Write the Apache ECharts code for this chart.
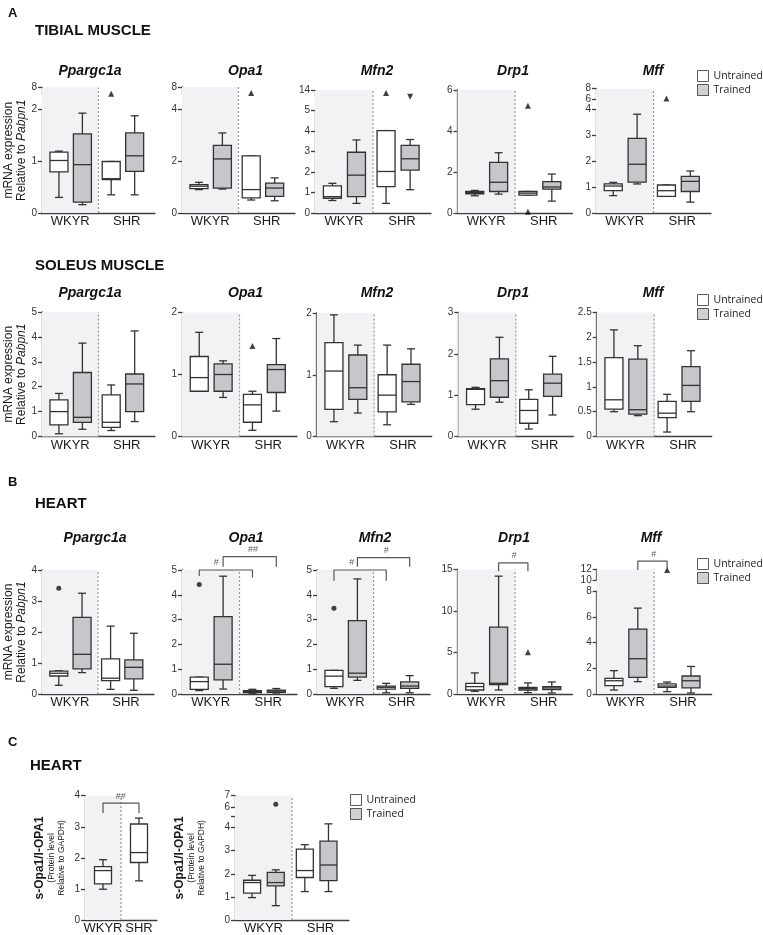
<!DOCTYPE html>
<html><head><meta charset="utf-8">
<script src="https://cdn.jsdelivr.net/npm/echarts@6/dist/echarts.min.js"></script>
<style>html,body{margin:0;padding:0;background:#fff}#c{width:763px;height:935px}</style>
</head><body><div id="c"></div>
<script>
// ================= DATA =================
const groups = ['WKYR', 'SHR'];
const boxNames = ['WKYR Untrained', 'WKYR Trained', 'SHR Untrained', 'SHR Trained'];
const legendNames = ['Untrained', 'Trained'];
// each box: [min, Q1, median, Q3, max]
// --- A: tibial muscle ---
const tibPpargc1a = [[0.30,0.79,1.01,1.17,1.19],[0.16,0.21,0.93,1.52,1.92],[0.35,0.64,0.66,0.99,0.99],[0.35,0.80,1.10,1.54,1.87]];
const tibPpargc1aOut = [[2, 6.2]];
const tibOpa1 = [[0.90,0.94,1.03,1.09,1.18],[0.92,0.96,2.08,2.60,3.08],[0.50,0.58,0.90,2.20,2.20],[0.47,0.64,0.96,1.15,1.35]];
const tibOpa1Out = [[2, 6.3]];
const tibMfn2 = [[0.61,0.72,0.80,1.33,1.45],[0.47,0.80,1.85,2.97,3.57],[0.47,1.29,2.03,4.03,4.03],[1.14,2.10,2.65,3.31,3.59]];
const tibMfn2Out = [[2, 10.5], [3, 6.0]];
const tibDrp1 = [[0.84,0.94,1.00,1.05,1.10],[0.92,1.05,1.50,2.47,2.94],[0.87,0.87,0.97,1.05,1.05],[0.58,1.16,1.27,1.53,1.90]];
const tibDrp1Out = [[2, 5.23], [2, 0.06]];
const tibMff = [[0.67,0.86,1.04,1.12,1.18],[1.12,1.19,1.88,2.88,3.81],[0.64,0.64,0.86,1.08,1.08],[0.42,0.83,1.22,1.41,1.62]];
const tibMffOut = [[2, 6.2]];
// --- A: soleus muscle ---
const solPpargc1a = [[0.11,0.47,1.00,1.47,1.73],[0.29,0.57,0.77,2.57,3.75],[0.24,0.37,0.57,1.67,2.07],[0.60,1.00,2.11,2.51,4.24]];
const solOpa1 = [[0.73,0.73,0.95,1.29,1.68],[0.63,0.73,1.00,1.17,1.22],[0.10,0.23,0.51,0.68,0.73],[0.41,0.71,1.08,1.16,1.58]];
const solOpa1Out = [[2, 1.46]];
const solMfn2 = [[0.24,0.44,1.06,1.52,1.97],[0.38,0.60,0.79,1.32,1.48],[0.19,0.40,0.67,1.00,1.48],[0.52,0.56,0.89,1.17,1.42]];
const solDrp1 = [[0.66,0.77,1.14,1.16,1.19],[0.83,0.95,1.35,1.88,2.40],[0.18,0.32,0.63,0.90,1.13],[0.52,0.97,1.29,1.51,1.94]];
const solMff = [[0.50,0.55,0.74,1.59,2.15],[0.42,0.45,0.54,1.56,1.83],[0.09,0.38,0.47,0.71,0.85],[0.50,0.71,1.03,1.41,1.73]];
// --- B: heart ---
const hrtPpargc1a = [[0.28,0.58,0.67,0.74,0.75],[0.69,0.81,1.28,2.47,3.25],[0.15,0.43,0.51,1.13,2.19],[0.12,0.49,0.86,1.10,1.96]];
const hrtPpargc1aOut = [[0, 3.41]];
const hrtOpa1 = [[0.14,0.19,0.50,0.68,0.68],[0.20,0.57,1.20,3.12,4.75],[0.03,0.06,0.10,0.14,0.19],[0.04,0.07,0.12,0.16,0.22]];
const hrtOpa1Out = [[0, 4.42]];
const hrtMfn2 = [[0.23,0.30,0.72,0.95,0.95],[0.55,0.68,0.84,2.96,4.64],[0.05,0.20,0.27,0.32,0.43],[0.05,0.23,0.32,0.49,0.74]];
const hrtMfn2Out = [[0, 3.46]];
const hrtDrp1 = [[0.32,0.48,0.89,1.29,2.54],[0.48,1.13,1.29,8.06,14.2],[0.16,0.48,0.65,0.81,1.33],[0.12,0.52,0.73,0.89,1.45]];
const hrtDrp1Out = [[2, 5.04]];
const hrtMff = [[0.31,0.65,1.03,1.21,1.81],[0.96,1.29,2.74,5.04,6.67],[0.18,0.52,0.62,0.78,0.93],[0.08,0.47,1.03,1.40,2.14]];
const hrtMffOut = [[2, 11.9]];
// significance brackets: [fromBox, toBox, topValue, leftLegEnd, rightLegEnd, label, labelFraction]
const hrtOpa1Sig = [[0, 2, 5.0, 4.76, 4.7, '#', 0.32], [1, 3, 5.54, 5.13, 5.13, '##', 0.56]];
const hrtMfn2Sig = [[0, 2, 5.0, 4.57, 4.57, '#', 0.34], [1, 3, 5.5, 5.13, 5.13, '#', 0.55]];
const hrtDrp1Sig = [[1, 2, 15.8, 14.8, 14.8, '#', 0.53]];
const hrtMffSig = [[1, 2, 13.6, 11.9, 12.3, '#', 0.54]];
// --- C: heart protein ---
const protGroup = [[0.99,1.16,1.59,1.72,1.94],[1.26,1.85,2.17,3.09,3.28]];
const protGroupSig = [[0, 1, 3.76, 3.44, 3.44, '##', 0.49]];
const protTraining = [[0.97,1.16,1.62,1.72,1.93],[0.62,1.48,1.62,2.06,2.17],[1.23,1.84,2.14,3.07,3.26],[1.23,1.70,2.38,3.41,4.16]];
const protTrainingOut = [[1, 6.26]];
// tick labels
const ticks0to2by1 = [0, 1, 2];
const ticks0to4by2 = [0, 2, 4];
const ticks0to5 = [0, 1, 2, 3, 4, 5];
const ticks0to6by2 = [0, 2, 4, 6];
const ticks0to4 = [0, 1, 2, 3, 4];
const ticks0to3 = [0, 1, 2, 3];
const ticks0to2_5 = [0, 0.5, 1, 1.5, 2, 2.5];
const ticks0to15 = [0, 5, 10, 15];
const ticks0to8by2 = [0, 2, 4, 6, 8];
const ticksUp6to8 = [6, 8];
const ticksUp6to14 = [6, 14];
const ticksUp10to12 = [10, 12];
const ticksUp6to7 = [6, 7];

// ================= STYLE / LAYOUT =================
const F = "'Liberation Sans', Arial, Helvetica, sans-serif";
const AX = '#3d3d3d';
const BOXLINE = '#333333';
const TRAINED = '#c6c6cb';
const SHADE = '#f2f2f4';
const SLOT4 = [0.6, 1.43, 2.45, 3.28];
const SLOT2 = [0.5, 1.5];
const SHAPES = { tri: { symbol: 'triangle', rot: 0, size: 6 }, inv: { symbol: 'triangle', rot: 180, size: 6 }, dot: { symbol: 'circle', rot: 0, size: 5 } };

const RICH = {
  n: { fontFamily: F, fontSize: 12, color: '#1a1a1a', lineHeight: 13 },
  i: { fontFamily: F, fontSize: 12, color: '#1a1a1a', lineHeight: 13, fontStyle: 'italic' },
  b: { fontFamily: F, fontSize: 12, color: '#1a1a1a', lineHeight: 14, fontWeight: 'bold' },
  s: { fontFamily: F, fontSize: 8.5, color: '#1a1a1a', lineHeight: 10 }
};
const NAME_MRNA = '{n|mRNA expression}\n{n|Relative to }{i|Pabpn1}';
const NAME_PROT = '{b|s-Opa1/l-OPA1}\n{s|(Protein level}\n{s|Relative to GAPDH)}';

const option = { animation: false, backgroundColor: '#ffffff', grid: [], xAxis: [], yAxis: [], series: [], graphic: [], legend: [] };

function lineStyle() { return { stroke: BOXLINE, lineWidth: 1.3 }; }
function boxRenderer(bw, cw) {
  return function (params, api) {
    const x = api.value(0);
    const cx = api.coord([x, api.value(3)])[0];
    const yMin = api.coord([x, api.value(1)])[1];
    const yQ1 = api.coord([x, api.value(2)])[1];
    const yMed = api.coord([x, api.value(3)])[1];
    const yQ3 = api.coord([x, api.value(4)])[1];
    const yMax = api.coord([x, api.value(5)])[1];
    const fill = api.value(6) ? TRAINED : '#ffffff';
    return { type: 'group', children: [
      { type: 'line', shape: { x1: cx, y1: yMax, x2: cx, y2: yQ3 }, style: lineStyle() },
      { type: 'line', shape: { x1: cx - cw / 2, y1: yMax, x2: cx + cw / 2, y2: yMax }, style: lineStyle() },
      { type: 'line', shape: { x1: cx, y1: yQ1, x2: cx, y2: yMin }, style: lineStyle() },
      { type: 'line', shape: { x1: cx - cw / 2, y1: yMin, x2: cx + cw / 2, y2: yMin }, style: lineStyle() },
      { type: 'rect', shape: { x: cx - bw / 2, y: yQ3, width: bw, height: Math.max(0.5, yQ1 - yQ3) }, style: { fill: fill, stroke: BOXLINE, lineWidth: 1.3 } },
      { type: 'line', shape: { x1: cx - bw / 2, y1: yMed, x2: cx + bw / 2, y2: yMed }, style: lineStyle() }
    ] };
  };
}
function yAxisCfg(gi, t, maxOverride) {
  return { gridIndex: gi, type: 'value', min: t[0], max: maxOverride != null ? maxOverride : t[t.length - 1], interval: t[1] - t[0],
    axisLine: { show: true, lineStyle: { color: AX, width: 1.3 } },
    axisTick: { show: true, length: 4, lineStyle: { color: AX, width: 1.3 } },
    splitLine: { show: false },
    axisLabel: { fontSize: 10, fontFamily: F, color: '#333', margin: 5,
      formatter: v => (t.some(tv => Math.abs(tv - v) < 1e-9) ? String(v) : '') } };
}

function panel(p) {
  const N = p.data.length;
  const slots = N === 4 ? SLOT4 : SLOT2;
  const fullTop = p.up ? p.up.top : p.loTop;
  const loMax = p.loMax != null ? p.loMax : p.ticks[p.ticks.length - 1];
  // background (shading + divider + y-axis title)
  const gBg = option.grid.length;
  option.grid.push({ left: p.x, top: fullTop, width: p.w, height: p.bottom - fullTop, outerBoundsMode: 'none' });
  const xBg = option.xAxis.length;
  option.xAxis.push({ gridIndex: gBg, type: 'value', min: 0, max: N, show: false });
  const yBg = option.yAxis.length;
  option.yAxis.push({ gridIndex: gBg, type: 'value', min: 0, max: 1, axisLine: { show: false }, axisTick: { show: false }, axisLabel: { show: false }, splitLine: { show: false },
    name: p.yName || '', nameLocation: 'middle', nameRotate: 90, nameGap: p.nameGap || 14, nameTextStyle: { rich: RICH } });
  option.series.push({ type: 'line', xAxisIndex: xBg, yAxisIndex: yBg, data: [[N / 2, 0], [N / 2, 1]], symbol: 'none', silent: true, z: 1,
    lineStyle: { color: '#9a9a9a', width: 1.2, type: [2, 2] },
    markArea: { silent: true, itemStyle: { color: SHADE }, data: [[{ xAxis: 0, yAxis: 0 }, { xAxis: N / 2, yAxis: 1 }]] } });
  // lower (main) grid
  const gLo = option.grid.length;
  option.grid.push({ left: p.x, top: p.loTop, width: p.w, height: p.bottom - p.loTop, outerBoundsMode: 'none' });
  const xLo = option.xAxis.length;
  option.xAxis.push({ gridIndex: gLo, type: 'value', min: 0, max: N, interval: 0.5,
    axisLine: { show: true, onZero: false, lineStyle: { color: AX, width: 1.3 } }, axisTick: { show: false }, splitLine: { show: false },
    axisLabel: { margin: 2, fontSize: 13, fontFamily: F, color: '#1a1a1a', showMinLabel: true, showMaxLabel: true,
      formatter: v => (Math.abs(v - N / 4) < 1e-6 ? groups[0] : (Math.abs(v - 3 * N / 4) < 1e-6 ? groups[1] : '')) } });
  const yLo = option.yAxis.length;
  option.yAxis.push(yAxisCfg(gLo, p.ticks, p.loMax));
  option.series.push({ type: 'custom', name: p.title || 'boxes', xAxisIndex: xLo, yAxisIndex: yLo, z: 3, silent: true,
    renderItem: boxRenderer(p.boxW || 18, 8), encode: { x: 0, y: [1, 2, 3, 4, 5] },
    data: p.data.map((d, i) => [slots[i]].concat(d, [(N === 4 && i % 2 === 1) ? 1 : 0])) });
  // upper (broken) segment
  let xUp = null, yUp = null;
  if (p.up) {
    const gUp = option.grid.length;
    option.grid.push({ left: p.x, top: p.up.top, width: p.w, height: p.up.bottom - p.up.top, outerBoundsMode: 'none' });
    xUp = option.xAxis.length;
    option.xAxis.push({ gridIndex: gUp, type: 'value', min: 0, max: N, show: false });
    yUp = option.yAxis.length;
    option.yAxis.push(yAxisCfg(gUp, p.up.ticks));
  }
  // outliers
  (p.out || []).forEach((o, k) => {
    const sh = SHAPES[p.outShape[k]];
    const useUp = p.up && o[1] > loMax;
    option.series.push({ type: 'scatter', xAxisIndex: useUp ? xUp : xLo, yAxisIndex: useUp ? yUp : yLo, silent: true, z: 4, clip: false,
      data: [[slots[o[0]], o[1]]], symbol: sh.symbol, symbolRotate: sh.rot, symbolSize: sh.size, itemStyle: { color: '#111' } });
  });
  // significance brackets
  (p.sig || []).forEach(b => {
    const xi = p.up ? xUp : xLo, yi = p.up ? yUp : yLo;
    const x1 = slots[b[0]], x2 = slots[b[1]];
    option.series.push({ type: 'line', xAxisIndex: xi, yAxisIndex: yi, silent: true, z: 4, clip: false, symbol: 'none',
      data: [[x1, b[3]], [x1, b[2]], [x2, b[2]], [x2, b[4]]], lineStyle: { color: '#555', width: 1.2 } });
    option.series.push({ type: 'scatter', xAxisIndex: xi, yAxisIndex: yi, silent: true, z: 4, clip: false, symbolSize: 1,
      itemStyle: { color: 'rgba(0,0,0,0)' }, data: [[x1 + (x2 - x1) * b[6], b[2]]],
      label: { show: true, position: 'top', distance: 2, formatter: b[5], fontSize: 9, fontFamily: F, color: '#333' } });
  });
  // panel title
  if (p.title) text(p.tx, p.ty, p.title, 'italic bold 14px ' + F, 'center');
}

function text(x, y, s, font, align) {
  option.graphic.push({ type: 'text', x: x, y: y, silent: true,
    style: { text: s, font: font, fill: '#111', textAlign: align || 'left', align: align || 'left', textVerticalAlign: 'middle', verticalAlign: 'middle' } });
}
function addLegend(left, top) {
  option.legend.push({ left: left, top: top, orient: 'vertical', itemWidth: 11, itemHeight: 11, itemGap: 2, padding: 0, selectedMode: false, icon: 'rect',
    textStyle: { fontFamily: "'Open Sans', sans-serif", fontSize: 10.5, color: '#222' },
    data: [{ name: legendNames[0], itemStyle: { color: '#ffffff', borderColor: '#333', borderWidth: 1 } },
           { name: legendNames[1], itemStyle: { color: TRAINED, borderColor: '#333', borderWidth: 1 } }] });
}

// ---- Row A: tibial ----
panel({ title: 'Ppargc1a', tx: 90, ty: 71, x: 42, w: 113, loTop: 109, bottom: 213, ticks: ticks0to2by1, up: { top: 87.5, bottom: 94.5, ticks: ticksUp6to8 }, data: tibPpargc1a, out: tibPpargc1aOut, outShape: ['tri'], yName: NAME_MRNA, nameGap: 14 });
panel({ title: 'Opa1', tx: 245.5, ty: 71, x: 182, w: 113, loTop: 109, bottom: 213, ticks: ticks0to4by2, up: { top: 87, bottom: 94, ticks: ticksUp6to8 }, data: tibOpa1, out: tibOpa1Out, outShape: ['tri'] });
panel({ title: 'Mfn2', tx: 377, ty: 71, x: 315, w: 116, loTop: 110.7, bottom: 213, ticks: ticks0to5, up: { top: 90.3, bottom: 96.7, ticks: ticksUp6to14 }, data: tibMfn2, out: tibMfn2Out, outShape: ['tri', 'inv'] });
panel({ title: 'Drp1', tx: 513, ty: 71, x: 457.5, w: 115, loTop: 90, bottom: 213, ticks: ticks0to6by2, data: tibDrp1, out: tibDrp1Out, outShape: ['tri', 'tri'] });
panel({ title: 'Mff', tx: 653, ty: 71, x: 596, w: 115, loTop: 109.3, bottom: 213, ticks: ticks0to4, up: { top: 88.7, bottom: 99.5, ticks: ticksUp6to8 }, data: tibMff, out: tibMffOut, outShape: ['tri'] });
// ---- Row A: soleus ----
panel({ title: 'Ppargc1a', tx: 90, ty: 293.5, x: 42, w: 113, loTop: 312, bottom: 436.5, ticks: ticks0to5, data: solPpargc1a, yName: NAME_MRNA, nameGap: 14 });
panel({ title: 'Opa1', tx: 245.5, ty: 293.5, x: 182, w: 115, loTop: 312.5, bottom: 436.5, ticks: ticks0to2by1, data: solOpa1, out: solOpa1Out, outShape: ['tri'] });
panel({ title: 'Mfn2', tx: 377, ty: 293.5, x: 316.7, w: 115, loTop: 313, bottom: 436.5, ticks: ticks0to2by1, data: solMfn2 });
panel({ title: 'Drp1', tx: 513, ty: 293.5, x: 458.3, w: 115, loTop: 312.5, bottom: 436.5, ticks: ticks0to3, data: solDrp1 });
panel({ title: 'Mff', tx: 653, ty: 293.5, x: 596.7, w: 115, loTop: 312.5, bottom: 436.5, ticks: ticks0to2_5, data: solMff });
// ---- Row B: heart ----
panel({ title: 'Ppargc1a', tx: 95, ty: 538.5, x: 42, w: 112, loTop: 570, bottom: 694, ticks: ticks0to4, data: hrtPpargc1a, out: hrtPpargc1aOut, outShape: ['dot'], yName: NAME_MRNA, nameGap: 14 });
panel({ title: 'Opa1', tx: 246, ty: 538.5, x: 182, w: 115, loTop: 570, bottom: 694, ticks: ticks0to5, data: hrtOpa1, out: hrtOpa1Out, outShape: ['dot'], sig: hrtOpa1Sig });
panel({ title: 'Mfn2', tx: 375, ty: 538.5, x: 317, w: 113, loTop: 570, bottom: 694, ticks: ticks0to5, data: hrtMfn2, out: hrtMfn2Out, outShape: ['dot'], sig: hrtMfn2Sig });
panel({ title: 'Drp1', tx: 514, ty: 538.5, x: 457.5, w: 115, loTop: 569.5, bottom: 694, ticks: ticks0to15, data: hrtDrp1, out: hrtDrp1Out, outShape: ['tri'], sig: hrtDrp1Sig });
panel({ title: 'Mff', tx: 651, ty: 538.5, x: 596.7, w: 115, loTop: 591, bottom: 694, ticks: ticks0to8by2, up: { top: 569.5, bottom: 580, ticks: ticksUp10to12 }, data: hrtMff, out: hrtMffOut, outShape: ['tri'], sig: hrtMffSig });
// ---- Row C: heart protein ----
panel({ x: 85, w: 72, loTop: 795.7, bottom: 920, ticks: ticks0to4, data: protGroup, sig: protGroupSig, boxW: 17, yName: NAME_PROT, nameGap: 18 });
panel({ x: 235, w: 114, loTop: 816, loMax: 4.5, bottom: 920, ticks: ticks0to4, up: { top: 795.7, bottom: 807.3, ticks: ticksUp6to7 }, data: protTraining, out: protTrainingOut, outShape: ['dot'], boxW: 17, yName: NAME_PROT, nameGap: 28 });

// legend carrier series
option.series.push({ type: 'scatter', name: legendNames[0], xAxisIndex: 1, yAxisIndex: 1, data: [], itemStyle: { color: '#ffffff', borderColor: '#333', borderWidth: 1 } });
option.series.push({ type: 'scatter', name: legendNames[1], xAxisIndex: 1, yAxisIndex: 1, data: [], itemStyle: { color: TRAINED, borderColor: '#333', borderWidth: 1 } });
addLegend(697, 70);
addLegend(697, 294);
addLegend(697, 558);
addLegend(350, 794);

// headings
text(8, 13, 'A', 'bold 13px ' + F);
text(35, 31, 'TIBIAL MUSCLE', 'bold 15px ' + F);
text(35, 266, 'SOLEUS MUSCLE', 'bold 15px ' + F);
text(8, 482, 'B', 'bold 13px ' + F);
text(35, 504, 'HEART', 'bold 15px ' + F);
text(8, 742, 'C', 'bold 13px ' + F);
text(30, 766, 'HEART', 'bold 15px ' + F);

const chart = echarts.init(document.getElementById('c'), null, { renderer: 'canvas' });
chart.setOption(option);
</script>
</body></html>
